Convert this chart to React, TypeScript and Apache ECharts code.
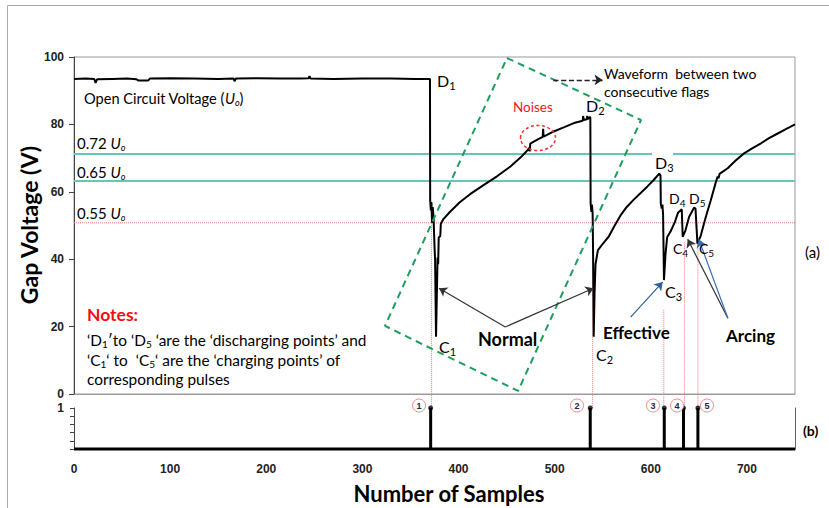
import React, { useEffect, useRef } from 'react';
import * as echarts from 'echarts';

// ---------- data ----------
const sampleRange = [0, 750];
const voltageRange = [0, 100];

// gap voltage trace, [sample, volts]
const openCircuitTrace = [
  [0, 93.5], [12, 93.6], [21, 93.5], [22.5, 92.3], [24, 93.4], [40, 93.5], [55, 93.6], [65, 93.4], [67, 93.0],
  [77, 93.0], [79, 93.6], [100, 93.7], [125, 93.6], [150, 93.5], [166, 93.6], [167, 92.8], [168.5, 93.6],
  [190, 93.7], [215, 93.6], [235, 93.6], [244, 93.7], [245, 94.3], [246, 93.6], [270, 93.5], [300, 93.6],
  [330, 93.6], [355, 93.5], [370.3, 93.5],
];
const pulse1Trace = [
  [370.5, 57.5], [371.2, 54.5], [371.8, 57], [372.4, 50.8], [373.2, 55.5], [374, 52.5], [375, 44], [375.6, 40],
  [376.6, 17], [377.6, 32], [378.2, 40.5], [378.8, 38.5], [379.4, 46.5], [381, 46.8], [381.6, 50.5], [384, 51.8],
  [391, 54], [401, 56.8], [412, 59.3], [426, 62], [440, 64.6], [454, 67.5], [465, 70.3], [470, 71.8],
  [473.6, 73], [474, 72], [474.6, 74.3], [481, 75.3], [487.6, 76.3], [488, 78.7], [488.5, 76.4], [499, 77.9],
  [510, 79.2], [520, 80.4], [529.2, 81.1], [529.6, 82.5], [530.2, 81.3], [533.5, 81.5], [533.9, 82.5],
  [534.4, 81.6], [536.8, 82.2],
];
const pulse2Trace = [
  [537.1, 82], [537.4, 56.5], [538.2, 54], [538.8, 56.2], [539.5, 53.5], [540, 41], [540.6, 17], [541.5, 30],
  [542.5, 38.5], [545, 42.7], [549.4, 44.3], [556.4, 46.8], [562, 49.8], [568.5, 53], [575, 55.5], [582, 57.6],
  [590, 59.8], [596.5, 61.6], [603, 63.5], [608.8, 65.4],
];
const pulse3to5Trace = [
  [610.1, 64.8], [610.4, 56.5], [611.4, 55], [612.1, 56.2], [612.8, 53], [613.7, 33.8], [615.3, 41.5],
  [617, 46.5], [620.5, 48.2], [625, 51], [628.3, 53.8], [632.2, 54.8], [633.2, 46.6], [636, 48.5],
  [639.8, 52.5], [645, 55.3], [646.5, 55], [648.5, 44.6], [652, 47], [657.2, 52.5], [662.4, 57.5],
  [667.6, 62.8], [669.5, 64.5], [670.5, 64.0], [671.5, 65.3], [680, 67], [688, 69.2], [697, 71.4],
  [705, 72.8], [714.6, 74.4], [723, 75.9], [732, 77.3], [741, 78.7], [750, 80],
];

// threshold levels (volts)
const level072 = 71.2;
const level065 = 63.2;
const level055 = 50.8;

// flags (panel b)
const flagSamples = [371, 537, 614, 634, 649];
const flagLevels = [1, 1, 1, 1, 1];
const flagNames = ['1', '2', '3', '4', '5'];

// red dotted guides from panel (a) down to the flags
const guideSamples = [372, 539.5, 613.5, 635, 649];
const guideTops = [50.8, 50.8, 25, 45, 45];

// green dashed box "waveform between two consecutive flags" (data coords)
const boxCorners = [[450.4, 99.7], [589.8, 81.3], [461.9, 0.9], [323.5, 20.2], [450.4, 99.7]];

// annotation arrows [from, to]
const normalArrows = [[[448.6, 19.9], [379.7, 31.4]], [[448.6, 19.9], [540.4, 31.4]]];
const effectiveArrow = [[579, 22.8], [612.3, 33.2]];
const arcingArrows = [[[680.2, 22.5], [638.4, 45.9]], [[680.2, 22.5], [649.9, 45.9]]];
const waveformArrow = [[498.6, 93.2], [549.8, 93.2]];

// ---------- helpers ----------
const FONT = 'Lato, "Noto Sans", sans-serif';
const AXIS_FONT = '"Liberation Sans", Arial, sans-serif';

let measureCtx: any = null;
function textWidth(t: string, size: number, weight: string, style: string) {
  if (!measureCtx) measureCtx = document.createElement('canvas').getContext('2d');
  measureCtx.font = `${style} ${weight} ${size}px ${FONT}`;
  return measureCtx.measureText(t).width;
}

type Part = { t: string; size?: number; italic?: boolean; bold?: boolean; dy?: number; color?: string };
function runs(x: number, y: number, parts: Part[], opts: any = {}) {
  const baseSize = opts.size ?? 14;
  const baseBold = opts.bold ?? false;
  const color = opts.color ?? '#000';
  let cx = x;
  return parts.map((p) => {
    const size = p.size ?? baseSize;
    const weight = (p.bold ?? baseBold) ? 'bold' : 'normal';
    const style = p.italic ? 'italic' : 'normal';
    const el = {
      type: 'text', x: cx, y: y + (p.dy ?? 0), z: 50, silent: true,
      style: {
        text: p.t, fill: p.color ?? color, fontSize: size, fontFamily: FONT, fontWeight: weight, fontStyle: style,
        textAlign: 'left', textVerticalAlign: 'middle', align: 'left', verticalAlign: 'middle',
      },
    };
    cx += textWidth(p.t, size, weight, style);
    return el;
  });
}
function sub(x: number, y: number, main: string, s: string, size = 16) {
  return runs(x, y, [{ t: main, size }, { t: s, size: Math.round(size * 0.68), dy: size * 0.36 }]);
}
function centerText(x: number, y: number, text: string, o: any = {}) {
  return {
    type: 'text', x, y, z: 50, silent: true, rotation: o.rotation ?? 0,
    style: {
      text, fill: o.color ?? '#000', fontSize: o.size ?? 14, fontFamily: o.family ?? FONT,
      fontWeight: o.bold ? 'bold' : 'normal', textAlign: 'center', textVerticalAlign: 'middle',
      align: 'center', verticalAlign: 'middle',
    },
  };
}

function arrowItem(a: number[][], color: string, type = 'solid', width = 1.2) {
  return [
    { coord: a[0], lineStyle: { color, width, type }, symbol: 'none' },
    { coord: a[1], symbol: 'arrow' },
  ];
}

function uoLabel(x: number, y: number, prefix: string, size: number) {
  return runs(x, y, [{ t: prefix }, { t: 'U', italic: true }, { t: 'o', italic: true, size: Math.round(size * 0.62), dy: size * 0.3 }], { size });
}

export default function App() {
  const ref = useRef<HTMLDivElement>(null);
  useEffect(() => {
    if (!ref.current) return;
    const chart = echarts.init(ref.current, undefined, { renderer: 'svg' });

    const trace = [...openCircuitTrace, ...pulse1Trace, ...pulse2Trace, ...pulse3to5Trace];
    const flagLine: number[][] = [[sampleRange[0], 0]];
    flagSamples.forEach((s, i) => { flagLine.push([s, 0], [s, flagLevels[i]], [s, 0]); });
    flagLine.push([sampleRange[1], 0]);

    const guideSeries = guideSamples.map((s, i) => ({
      type: 'line', xAxisIndex: 0, yAxisIndex: 0, clip: false, silent: true, symbol: 'none', z: 1,
      data: [[s, guideTops[i]], [s, -4.2]],
      lineStyle: { color: '#f07878', width: 1, type: 'dotted' },
    }));

    const circleX = [419, 577, 653, 677, 707];
    const circles: any[] = [];
    flagNames.forEach((n, i) => {
      circles.push({ type: 'circle', z: 50, silent: true, shape: { cx: circleX[i], cy: 405.5, r: 6.5 }, style: { fill: '#fff', stroke: '#f08a8a', lineWidth: 1 } });
      circles.push(centerText(circleX[i], 405.5, n, { size: 9, bold: true, color: '#1b2a4a', family: AXIS_FONT }));
    });

    const NS = 15.4;
    const notes = [
      ...runs(87, 314, [{ t: 'Notes:', bold: true, color: '#f01010' }], { size: 17.5 }),
      ...runs(87, 340, [
        { t: '‘D' }, { t: '1', size: 10, dy: 4 }, { t: '′to ‘D' }, { t: '5', size: 10, dy: 4 },
        { t: ' ‘are the ‘discharging points’ and' },
      ], { size: NS }),
      ...runs(87, 360, [
        { t: '‘C' }, { t: '1', size: 10, dy: 4 }, { t: '‘ to  ‘C' }, { t: '5', size: 10, dy: 4 },
        { t: '‘ are the ‘charging points’ of' },
      ], { size: NS }),
      ...runs(87, 379, [{ t: 'corresponding pulses' }], { size: NS }),
    ];

    const option: any = {
      animation: false,
      backgroundColor: '#fff',
      grid: [
        { left: 74, top: 57, width: 721, height: 337, show: true, borderColor: '#9a9a9a', borderWidth: 1, backgroundColor: 'transparent' },
        { left: 74, top: 408, width: 721, height: 41 },
      ],
      xAxis: [
        {
          type: 'value', gridIndex: 0, min: sampleRange[0], max: sampleRange[1],
          axisLine: { show: true, onZero: false, lineStyle: { color: '#9a9a9a' } },
          axisTick: { show: false }, axisLabel: { show: false }, splitLine: { show: false },
        },
        {
          type: 'value', gridIndex: 1, min: sampleRange[0], max: sampleRange[1], interval: 100,
          axisLine: { show: true, onZero: false, lineStyle: { color: '#000', width: 1 } },
          axisTick: { show: false },
          axisLabel: {
            margin: 14, fontSize: 12, fontWeight: 'bold', fontFamily: AXIS_FONT, color: '#222',
            formatter: (v: number) => (v % 100 === 0 ? String(v) : ''),
          },
          splitLine: { show: false },
        },
      ],
      yAxis: [
        {
          type: 'value', gridIndex: 0, min: voltageRange[0], max: voltageRange[1], interval: 20,
          axisLine: { show: true, lineStyle: { color: '#444' } },
          axisTick: { show: true, length: 5, lineStyle: { color: '#444' } },
          axisLabel: { margin: 10, fontSize: 12, fontWeight: 'bold', fontFamily: AXIS_FONT, color: '#222' },
          splitLine: { show: false },
        },
        {
          type: 'value', gridIndex: 1, min: 0, max: 1, interval: 0.2,
          axisLine: { show: true, lineStyle: { color: '#444' } },
          axisTick: { show: true, length: 4, lineStyle: { color: '#444' } },
          axisLabel: {
            margin: 10, fontSize: 12, fontWeight: 'bold', fontFamily: AXIS_FONT, color: '#222',
            formatter: (v: number) => (v === 1 ? '1' : ''),
          },
          splitLine: { show: false },
        },
        {
          type: 'value', gridIndex: 1, position: 'right', min: 0, max: 1,
          axisLine: { show: true, lineStyle: { color: '#666' } },
          axisTick: { show: false }, axisLabel: { show: false }, splitLine: { show: false },
        },
      ],
      series: [
        {
          type: 'line', name: '0.72 Uo', xAxisIndex: 0, yAxisIndex: 0, symbol: 'none', silent: true, z: 1,
          data: [[sampleRange[0], level072], [sampleRange[1], level072]],
          lineStyle: { color: '#62c9b7', width: 2 },
        },
        {
          type: 'line', name: '0.65 Uo', xAxisIndex: 0, yAxisIndex: 0, symbol: 'none', silent: true, z: 1,
          data: [[sampleRange[0], level065], [sampleRange[1], level065]],
          lineStyle: { color: '#62c9b7', width: 2 },
        },
        {
          type: 'line', name: '0.55 Uo', xAxisIndex: 0, yAxisIndex: 0, symbol: 'none', silent: true, z: 1,
          data: [[sampleRange[0], level055], [sampleRange[1], level055]],
          lineStyle: { color: '#f07878', width: 1, type: 'dotted' },
        },
        ...guideSeries,
        {
          type: 'line', name: 'Gap voltage', xAxisIndex: 0, yAxisIndex: 0, symbol: 'none', silent: true, z: 3,
          data: trace, lineStyle: { color: '#000', width: 2 },
        },
        {
          type: 'line', name: 'box', xAxisIndex: 0, yAxisIndex: 0, symbol: 'none', silent: true, clip: false, z: 4,
          data: boxCorners, lineStyle: { color: '#1c9e5c', width: 2, type: [7, 5] },
          markLine: {
            silent: true, symbol: ['none', 'arrow'], symbolSize: 8, label: { show: false },
            emphasis: { disabled: true },
            data: [
              arrowItem(normalArrows[0], '#333'),
              arrowItem(normalArrows[1], '#333'),
              arrowItem(effectiveArrow, '#2e5f9a'),
              arrowItem(arcingArrows[0], '#333'),
              arrowItem(arcingArrows[1], '#3b6fb0'),
              arrowItem(waveformArrow, '#222', 'dashed', 1.3),
            ],
          },
        },
        {
          type: 'line', name: 'Flags', xAxisIndex: 1, yAxisIndex: 1, symbol: 'none', silent: true, clip: false, z: 3,
          data: flagLine, lineStyle: { color: '#000', width: 3 },
        },
        {
          type: 'scatter', name: 'Flag tops', xAxisIndex: 1, yAxisIndex: 1, silent: true, clip: false, z: 4,
          data: flagSamples.map((s, i) => [s, flagLevels[i]]), symbolSize: 5, itemStyle: { color: '#000' },
        },
      ],
      graphic: {
        elements: [
          { type: 'polyline', z: 0, silent: true, shape: { points: [[7.5, 508], [7.5, 5.5], [829, 5.5]] }, style: { stroke: '#aaa', lineWidth: 1, fill: 'none' } },
          { type: 'rect', z: 40, silent: true, shape: { x: 652, y: 151, width: 21, height: 6 }, style: { fill: '#fff' } },
          centerText(29, 225, 'Gap Voltage (V)', { size: 23, bold: true, rotation: Math.PI / 2 }),
          centerText(449, 493, 'Number of Samples', { size: 22, bold: true }),
          ...runs(84, 98, [{ t: 'Open Circuit Voltage (' }, { t: 'U', italic: true }, { t: 'o', italic: true, size: 9, dy: 4 }, { t: ')' }], { size: 14.6 }),
          ...uoLabel(77, 143, '0.72 ', 15),
          ...uoLabel(77, 172, '0.65 ', 15),
          ...uoLabel(77, 213, '0.55 ', 15),
          ...sub(437, 80, 'D', '1'),
          ...sub(586, 105, 'D', '2'),
          ...sub(655, 162, 'D', '3'),
          ...sub(669, 198, 'D', '4', 14),
          ...sub(689, 198, 'D', '5', 14),
          ...sub(439, 346, 'C', '1'),
          ...sub(596, 354, 'C', '2'),
          ...sub(665, 291, 'C', '3'),
          ...sub(673, 248, 'C', '4', 14),
          ...sub(699, 248, 'C', '5', 14),
          ...runs(478, 339, [{ t: 'Normal' }], { size: 18, bold: true }),
          ...runs(603, 332, [{ t: 'Effective' }], { size: 17, bold: true }),
          ...runs(726, 335, [{ t: 'Arcing' }], { size: 17, bold: true }),
          ...runs(513, 107, [{ t: 'Noises', color: '#f01818' }], { size: 13.5 }),
          { type: 'ellipse', z: 45, silent: true, shape: { cx: 538, cy: 138, rx: 17.5, ry: 12.5 }, style: { fill: 'none', stroke: '#f03030', lineWidth: 1.5, lineDash: [3, 2.5] } },
          ...runs(604, 73, [{ t: 'Waveform  between two' }], { size: 14 }),
          ...runs(604, 91, [{ t: 'consecutive flags' }], { size: 14 }),
          ...runs(805, 252, [{ t: '(a)' }], { size: 15 }),
          ...runs(803, 430, [{ t: '(b)', bold: true }], { size: 14 }),
          ...notes,
          ...circles,
        ],
      },
    };
    chart.setOption(option);
    return () => chart.dispose();
  }, []);
  return <div ref={ref} style={{ position: 'fixed', left: 0, top: 0, width: 829, height: 508, background: '#fff' }} />;
}
